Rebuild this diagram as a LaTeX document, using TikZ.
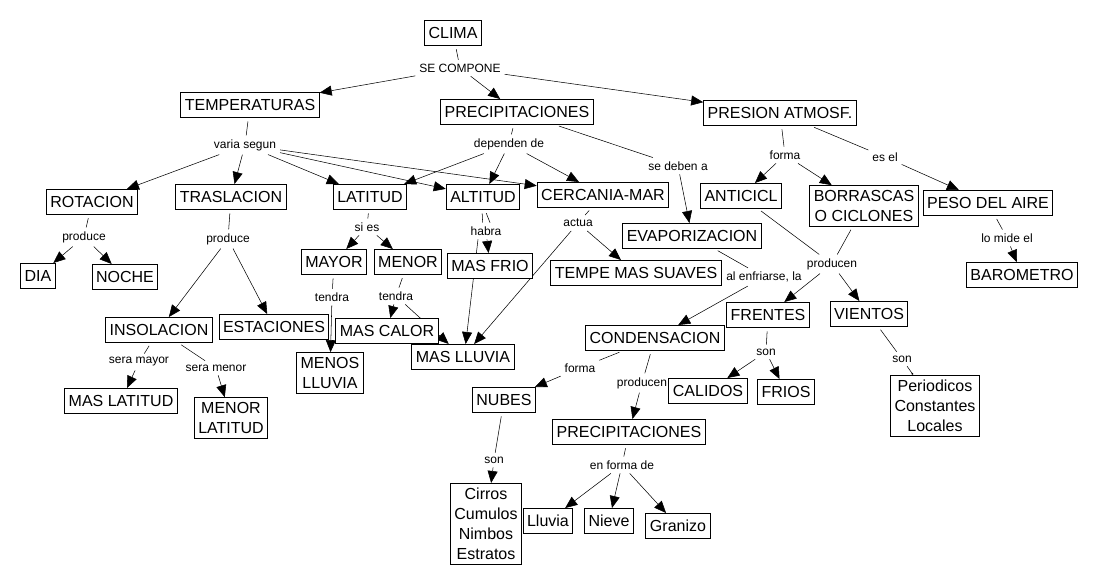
\documentclass[tikz,border=0pt]{standalone}
\usepackage{fontspec}
\setmainfont{Liberation Sans}
\usetikzlibrary{arrows.meta,backgrounds}
\begin{document}
\begin{tikzpicture}[x=0.75pt, y=-0.75pt, line width=0.75pt,
  concept/.style = {draw, fill=white, align=center, inner xsep=3pt, inner ysep=3.5pt, minimum height=18.75pt, font=\fontsize{12}{15}\selectfont},
  link/.style = {inner sep=1pt, outer sep=2pt, font=\fontsize{9}{10.5}\selectfont},
  tie/.style = {shorten <=2.5pt},
  arr/.style = {-{Triangle[length=9pt,width=7.5pt]}}]
\useasboundingbox (0,0) rectangle (1096,586);
\node[concept] (clima) at (453,33) {CLIMA};
\node[link] (secomp) at (460,68) {SE COMPONE};
\node[concept] (temp) at (250,105) {TEMPERATURAS};
\node[concept] (precip) at (517,112) {PRECIPITACIONES};
\node[concept] (presion) at (780,113) {PRESION ATMOSF.};
\node[link] (varia) at (245,145) {varia segun};
\node[link] (dependen) at (509,144) {dependen de};
\node[link] (sedeben) at (678,166) {se deben a};
\node[link] (formap) at (785,155) {forma};
\node[link] (esel) at (885,157) {es el};
\node[concept] (rotacion) at (92,202) {ROTACION};
\node[concept] (traslacion) at (231,197) {TRASLACION};
\node[concept] (latitud) at (370,197) {LATITUD};
\node[concept] (altitud) at (483,197) {ALTITUD};
\node[concept] (cercania) at (603,195) {CERCANIA-MAR};
\node[concept] (anticicl) at (741,196) {ANTICICL};
\node[concept] (borrascas) at (864,206) {BORRASCAS\\O CICLONES};
\node[concept] (peso) at (988,203) {PESO DEL AIRE};
\node[link] (producer) at (84,237) {produce};
\node[link] (producet) at (228,239) {produce};
\node[link] (sies) at (367,227) {si es};
\node[link] (habra) at (486,231) {habra};
\node[link] (actua) at (578,223) {actua};
\node[concept] (evapor) at (692,236) {EVAPORIZACION};
\node[link] (lomide) at (1007,238) {lo mide el};
\node[concept] (dia) at (38,276) {DIA};
\node[concept] (noche) at (125,277) {NOCHE};
\node[concept] (mayor) at (334,262) {MAYOR};
\node[concept] (menor) at (408,262) {MENOR};
\node[concept] (masfrio) at (490,266) {MAS FRIO};
\node[concept] (tempe) at (636,273) {TEMPE MAS SUAVES};
\node[link] (enfriarse) at (764,277) {al enfriarse, la};
\node[link] (producenp) at (832,264) {producen};
\node[concept] (barometro) at (1022,275) {BAROMETRO};
\node[link] (tendraa) at (332,297) {tendra};
\node[link] (tendrab) at (396,296) {tendra};
\node[concept] (insolacion) at (159,330) {INSOLACION};
\node[concept] (estaciones) at (274,327) {ESTACIONES};
\node[concept] (mascalor) at (387,331) {MAS CALOR};
\node[concept] (maslluvia) at (463,357) {MAS LLUVIA};
\node[concept] (condens) at (655,338) {CONDENSACION};
\node[concept] (frentes) at (768,315) {FRENTES};
\node[concept] (vientos) at (869,314) {VIENTOS};
\node[concept] (menoslluvia) at (330,373) {MENOS\\LLUVIA};
\node[link] (seramayor) at (139,362) {sera mayor};
\node[link] (seramenor) at (216,368) {sera menor};
\node[link] (formac) at (580,368) {forma};
\node[link] (producenc) at (642,383) {producen};
\node[link] (sonf) at (766,352) {son};
\node[link] (sonv) at (902,359) {son};
\node[concept] (calidos) at (708,391) {CALIDOS};
\node[concept] (frios) at (786,392) {FRIOS};
\node[concept] (tipos) at (935,406) {Periodicos\\Constantes\\Locales};
\node[concept] (nubes) at (504,400) {NUBES};
\node[concept] (maslatitud) at (121,401) {MAS LATITUD};
\node[concept] (menorlatitud) at (231,418) {MENOR\\LATITUD};
\node[concept] (precipb) at (629,432) {PRECIPITACIONES};
\node[link] (sonn) at (494,460) {son};
\node[link] (enforma) at (622,465) {en forma de};
\node[concept] (nubetipos) at (486,524) {Cirros\\Cumulos\\Nimbos\\Estratos};
\node[concept] (lluvia) at (548,521) {Lluvia};
\node[concept] (nieve) at (609,521) {Nieve};
\node[concept] (granizo) at (678,526) {Granizo};
\begin{scope}[on background layer]
\draw[tie] (clima) -- (secomp);
\draw[arr] (secomp) -- (temp);
\draw[arr] (secomp) -- (precip);
\draw[arr] (secomp) -- (presion);
\draw[tie] (temp) -- (varia);
\draw[arr] (varia) -- (rotacion);
\draw[arr] (varia) -- (traslacion);
\draw[arr] (varia) -- (latitud);
\draw[arr] (varia) -- (altitud);
\draw[arr] (varia) -- (cercania);
\draw[tie] (precip) -- (dependen);
\draw[arr] (dependen) -- (latitud);
\draw[arr] (dependen) -- (altitud);
\draw[arr] (dependen) -- (cercania);
\draw[tie] (precip) -- (sedeben);
\draw[arr] (sedeben) -- (evapor);
\draw[tie] (presion) -- (formap);
\draw[arr] (formap) -- (anticicl);
\draw[arr] (formap) -- (borrascas);
\draw[tie] (presion) -- (esel);
\draw[arr] (esel) -- (peso);
\draw[tie] (rotacion) -- (producer);
\draw[arr] (producer) -- (dia);
\draw[arr] (producer) -- (noche);
\draw[tie] (traslacion) -- (producet);
\draw[arr] (producet) -- (insolacion);
\draw[arr] (producet) -- (estaciones);
\draw[tie] (latitud) -- (sies);
\draw[arr] (sies) -- (mayor);
\draw[arr] (sies) -- (menor);
\draw[tie] ([xshift=-0.75pt]altitud.south) -- ([xshift=-2.5pt]habra.north);
\draw[tie] ([xshift=1.5pt]altitud.south) -- ([xshift=3pt]habra.north);
\draw[arr] (habra) -- (masfrio);
\draw[arr] ([xshift=-6pt]habra.south) -- ([xshift=2pt]maslluvia.north);
\draw[tie] (cercania) -- (actua);
\draw[arr] (actua) -- (tempe);
\draw[arr] (actua) -- (maslluvia);
\draw[tie] (mayor) -- (tendraa);
\draw[arr] (tendraa) -- (menoslluvia);
\draw[tie] (menor) -- (tendrab);
\draw[arr] (tendrab) -- (mascalor);
\draw[arr] (tendrab) -- (maslluvia);
\draw[tie] (insolacion) -- (seramayor);
\draw[arr] (seramayor) -- (maslatitud);
\draw[tie] (insolacion) -- (seramenor);
\draw[arr] (seramenor) -- (menorlatitud);
\draw[tie] (evapor) -- (enfriarse);
\draw[arr] (enfriarse) -- (condens);
\draw[tie] (anticicl) -- (producenp);
\draw[tie] (borrascas) -- (producenp);
\draw[arr] (producenp) -- (frentes);
\draw[arr] (producenp) -- (vientos);
\draw[tie] (peso) -- (lomide);
\draw[arr] (lomide) -- (barometro);
\draw[tie] (frentes) -- (sonf);
\draw[arr] (sonf) -- (calidos);
\draw[arr] (sonf) -- (frios);
\draw[tie] (vientos) -- (sonv);
\draw[-{Triangle[length=1.5pt,width=1.5pt]}] (sonv) -- (tipos);
\draw[tie] (condens) -- (formac);
\draw[arr] (formac) -- (nubes);
\draw[tie] (condens) -- (producenc);
\draw[arr] (producenc) -- (precipb);
\draw[tie] (nubes) -- (sonn);
\draw[arr] (sonn) -- (nubetipos);
\draw[tie] (precipb) -- (enforma);
\draw[arr] (enforma) -- (lluvia);
\draw[arr] (enforma) -- (nieve);
\draw[arr] (enforma) -- (granizo);
\end{scope}
\end{tikzpicture}
\end{document}
